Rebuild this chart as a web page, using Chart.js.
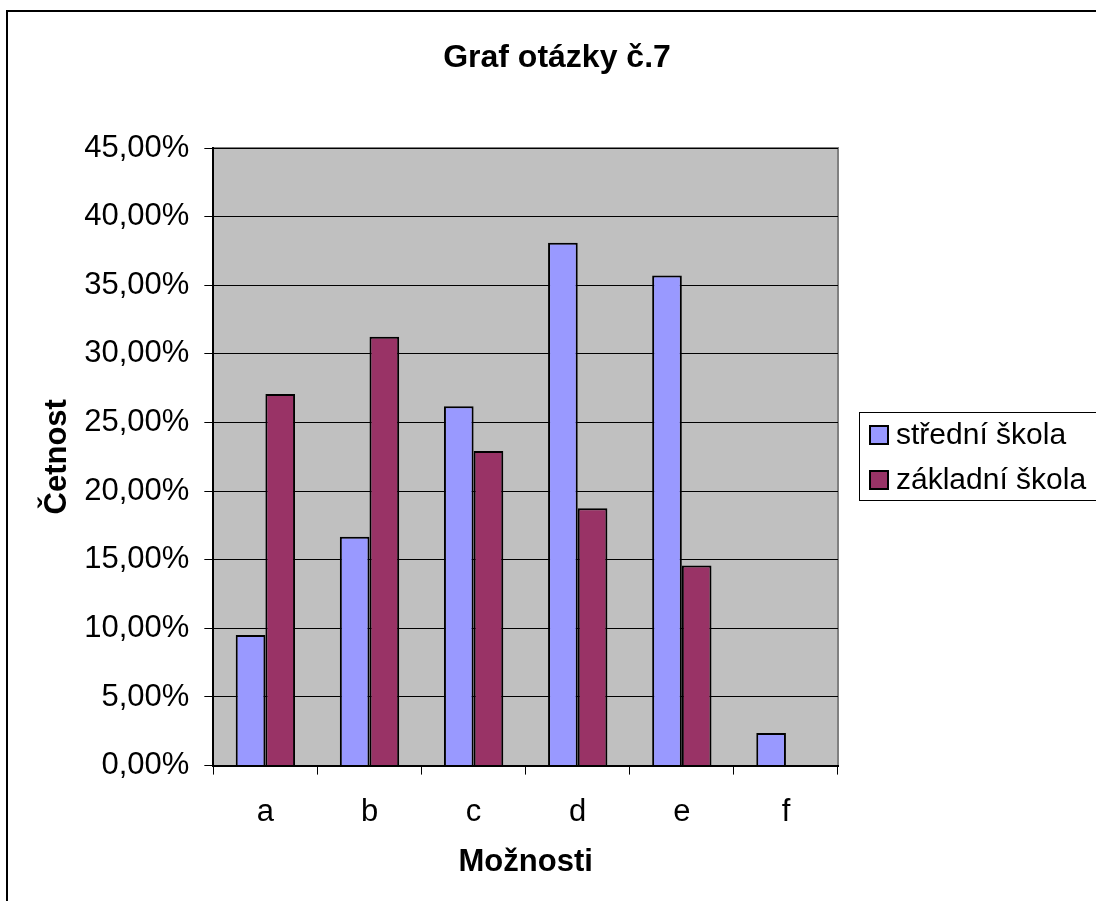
<!DOCTYPE html>
<html lang="cs">
<head>
    <meta charset="UTF-8">
    <title>Graf otázky č.7</title>
    <style>
        body {
            margin: 0;
            background: #ffffff;
        }

        #wrap {
            width: 1096px;
            height: 901px;
        }
    </style>
    <script src="https://cdn.jsdelivr.net/npm/chart.js"></script>
</head>
<body>

    <div id="wrap">
        <canvas id="grafChart" width="1096" height="901"></canvas>
    </div>

    <script>
        // Data (percent)
        var moznosti = ['a', 'b', 'c', 'd', 'e', 'f'];
        var strednaSkola = [9.52, 16.67, 26.19, 38.10, 35.71, 2.38];
        var zakladniSkola = [27.08, 31.25, 22.92, 18.75, 14.58, 0];
        var nazvySerii = ['střední škola', 'základní škola'];
        var barvySerii = ['#9999FF', '#993366'];

        var pismo = '"Liberation Sans", Arial, sans-serif';

        // Grey plot area, outer frame, title and boxed legend
        var ramecek = {
            id: 'ramecek',
            beforeDraw: function (chart) {
                var ctx = chart.ctx;
                var a = chart.chartArea;
                ctx.save();
                ctx.fillStyle = '#C0C0C0';
                ctx.fillRect(a.left, a.top, a.right - a.left, a.bottom - a.top);
                ctx.strokeStyle = '#808080';
                ctx.lineWidth = 2;
                ctx.beginPath();
                ctx.moveTo(a.left, a.top);
                ctx.lineTo(a.right, a.top);
                ctx.lineTo(a.right, a.bottom);
                ctx.stroke();
                ctx.restore();
            },
            afterDraw: function (chart) {
                var ctx = chart.ctx;
                ctx.save();
                // outer frame
                ctx.strokeStyle = '#000000';
                ctx.lineWidth = 2;
                ctx.beginPath();
                ctx.moveTo(7, 901);
                ctx.lineTo(7, 11);
                ctx.lineTo(1096, 11);
                ctx.stroke();

                // title
                ctx.fillStyle = '#000000';
                ctx.font = 'bold 32px ' + pismo;
                ctx.textAlign = 'center';
                ctx.textBaseline = 'alphabetic';
                ctx.fillText('Graf otázky č.7', 557, 67);

                // legend
                ctx.lineWidth = 1;
                ctx.strokeRect(859.5, 412.5, 250, 88);
                ctx.font = '30px ' + pismo;
                ctx.textAlign = 'left';
                chart.data.datasets.forEach(function (ds, i) {
                    var y = 426 + i * 45;
                    ctx.fillStyle = ds.backgroundColor;
                    ctx.fillRect(870, y, 18, 18);
                    ctx.lineWidth = 2;
                    ctx.strokeStyle = '#000000';
                    ctx.strokeRect(870, y, 18, 18);
                    ctx.fillStyle = '#000000';
                    ctx.fillText(ds.label, 896, y + 18);
                });
                ctx.restore();
            }
        };

        var ctx = document.getElementById('grafChart').getContext('2d');
        var grafChart = new Chart(ctx, {
            type: 'bar',
            data: {
                labels: moznosti,
                datasets: [{
                    label: nazvySerii[0],
                    data: strednaSkola,
                    backgroundColor: barvySerii[0],
                    borderColor: '#000000',
                    borderWidth: 2
                }, {
                    label: nazvySerii[1],
                    data: zakladniSkola,
                    backgroundColor: barvySerii[1],
                    borderColor: '#000000',
                    borderWidth: 2
                }]
            },
            options: {
                responsive: false,
                animation: false,
                layout: {
                    padding: { left: 20, right: 258, top: 148, bottom: 0 }
                },
                datasets: {
                    bar: {
                        categoryPercentage: 0.57,
                        barPercentage: 1
                    }
                },
                plugins: {
                    legend: { display: false },
                    title: { display: false },
                    tooltip: { enabled: false }
                },
                scales: {
                    x: {
                        grid: {
                            offset: true,
                            drawOnChartArea: false,
                            drawTicks: true,
                            tickLength: 9,
                            color: '#000000'
                        },
                        border: { color: '#000000', width: 2 },
                        ticks: {
                            color: '#000000',
                            padding: 19,
                            font: { family: pismo, size: 31 }
                        },
                        title: {
                            display: true,
                            text: 'Možnosti',
                            color: '#000000',
                            padding: { top: -6, bottom: 20 },
                            font: { family: pismo, size: 31, weight: 'bold' }
                        }
                    },
                    y: {
                        min: 0,
                        max: 45,
                        grid: {
                            color: '#000000',
                            lineWidth: 1,
                            tickLength: 9
                        },
                        border: { color: '#000000', width: 2 },
                        ticks: {
                            stepSize: 5,
                            color: '#000000',
                            padding: 15,
                            font: { family: pismo, size: 31 },
                            callback: function (value) {
                                return value.toFixed(2).replace('.', ',') + '%';
                            }
                        },
                        title: {
                            display: true,
                            text: 'Četnost',
                            color: '#000000',
                            padding: { top: 19, bottom: -7 },
                            font: { family: pismo, size: 31, weight: 'bold' }
                        }
                    }
                }
            },
            plugins: [ramecek]
        });
    </script>

</body>
</html>
